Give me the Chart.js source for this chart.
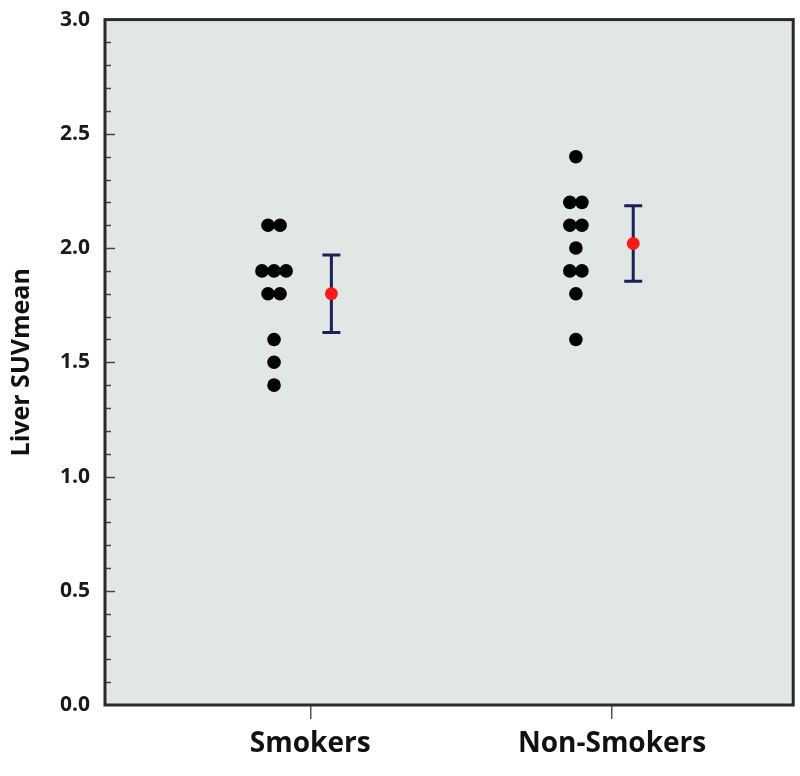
<!DOCTYPE html>
<html>
<head>
<meta charset="utf-8">
<script src="https://cdn.jsdelivr.net/npm/chart.js@4.4.1/dist/chart.umd.min.js"></script>
<style>
  html, body { margin: 0; padding: 0; background: #fff; }
  #wrap { width: 800px; height: 776px; }
</style>
</head>
<body>
<div id="wrap"><canvas id="chart"></canvas></div>
<script>
const groups = [ 'Smokers', 'Non-Smokers' ]
const smokers = [ 2.1, 2.1, 1.9, 1.9, 1.9, 1.8, 1.8, 1.6, 1.5, 1.4 ]
const nonSmokers = [ 2.4, 2.2, 2.2, 2.1, 2.1, 2.0, 1.9, 1.9, 1.8, 1.6 ]
const means = [ 1.80, 2.02 ]
const errors = [ 0.17, 0.165 ]

// layout of the marks around each group position
const DOT_SHIFT = -0.12
const BAR_SHIFT = 0.07
const DOT_GAP = 0.04

// side by side placement for equal values
function swarm( values, center ) {
  const counts = {}
  values.forEach( v => counts[ v ] = ( counts[ v ] || 0 ) + 1 )
  const seen = {}
  return values.map( v => {
    seen[ v ] = ( seen[ v ] ?? -1 ) + 1
    return { x: center + ( seen[ v ] - ( counts[ v ] - 1 ) / 2 ) * DOT_GAP, y: v }
  } )
}

const font = 'Open Sans'

const frame = {
  id: 'frame',
  beforeDatasetsDraw( chart ) {
    const { ctx, chartArea: a, scales: { x, y } } = chart
    ctx.save()
    ctx.fillStyle = '#e0e7e5'
    ctx.fillRect( a.left, a.top, a.width, a.height )
    ctx.strokeStyle = '#1c2058'
    ctx.lineWidth = 3
    means.forEach( ( m, i ) => {
      const px = x.getPixelForValue( i + 1 + BAR_SHIFT )
      const top = y.getPixelForValue( m + errors[ i ] )
      const bot = y.getPixelForValue( m - errors[ i ] )
      ctx.beginPath()
      ctx.moveTo( px, top ); ctx.lineTo( px, bot )
      ctx.moveTo( px - 9, top ); ctx.lineTo( px + 9, top )
      ctx.moveTo( px - 9, bot ); ctx.lineTo( px + 9, bot )
      ctx.stroke()
    } )
    ctx.restore()
  },
  afterDraw( chart ) {
    const { ctx, chartArea: a, scales: { y } } = chart
    ctx.save()
    ctx.strokeStyle = '#444'
    ctx.lineWidth = 1.5
    for ( let k = 1; k < 30; k++ ) {
      const py = Math.round( y.getPixelForValue( k / 10 ) ) + 0.5
      const len = k % 5 === 0 ? 10 : 6
      ctx.beginPath()
      ctx.moveTo( a.left, py ); ctx.lineTo( a.left + len, py )
      ctx.stroke()
    }
    ctx.strokeStyle = '#2a2a2a'
    ctx.lineWidth = 3
    ctx.strokeRect( a.left, a.top, a.width, a.height )
    ctx.restore()
  }
}

const data = {
  datasets: [
    {
      data: swarm( smokers, 1 + DOT_SHIFT ).concat( swarm( nonSmokers, 2 + DOT_SHIFT ) ),
      pointRadius: 6.8,
      backgroundColor: '#000',
      borderWidth: 0
    },
    {
      data: means.map( ( m, i ) => ( { x: i + 1 + BAR_SHIFT, y: m } ) ),
      pointRadius: 6.5,
      backgroundColor: '#ff1a1a',
      borderWidth: 0
    }
  ]
}

const config = {
  type: 'scatter',
  data: data,
  plugins: [ frame ],
  options: {
    responsive: true,
    maintainAspectRatio: false,
    animation: false,
    layout: { padding: { top: 17, right: 6, left: 0, bottom: 0 } },
    plugins: { legend: { display: false }, tooltip: { enabled: false } },
    scales: {
      x: {
        type: 'linear',
        min: 0.32,
        max: 2.6,
        afterBuildTicks: scale => { scale.ticks = groups.map( ( g, i ) => ( { value: i + 1 } ) ) },
        afterFit: scale => { scale.height = 71 },
        ticks: {
          autoSkip: false,
          maxRotation: 0,
          padding: 8,
          color: '#111',
          font: { family: font, size: 28, weight: 'bold' },
          callback: v => groups[ v - 1 ]
        },
        grid: { drawOnChartArea: false, drawTicks: true, tickLength: 14, color: '#555', lineWidth: 1.5 },
        border: { display: false }
      },
      y: {
        min: 0,
        max: 3,
        afterFit: scale => { scale.width = 105 },
        ticks: {
          stepSize: 0.5,
          padding: 7,
          color: '#1a1a1a',
          font: { family: font, size: 21, weight: 'bold' },
          callback: v => v.toFixed( 1 )
        },
        grid: { display: false },
        border: { display: false },
        title: {
          display: true,
          text: 'Liver SUVmean',
          color: '#111',
          padding: { top: 7, bottom: 0 },
          font: { family: font, size: 25, weight: 'bold' }
        }
      }
    }
  }
}

const graph = new Chart( document.getElementById( 'chart' ), config )
</script>
</body>
</html>
